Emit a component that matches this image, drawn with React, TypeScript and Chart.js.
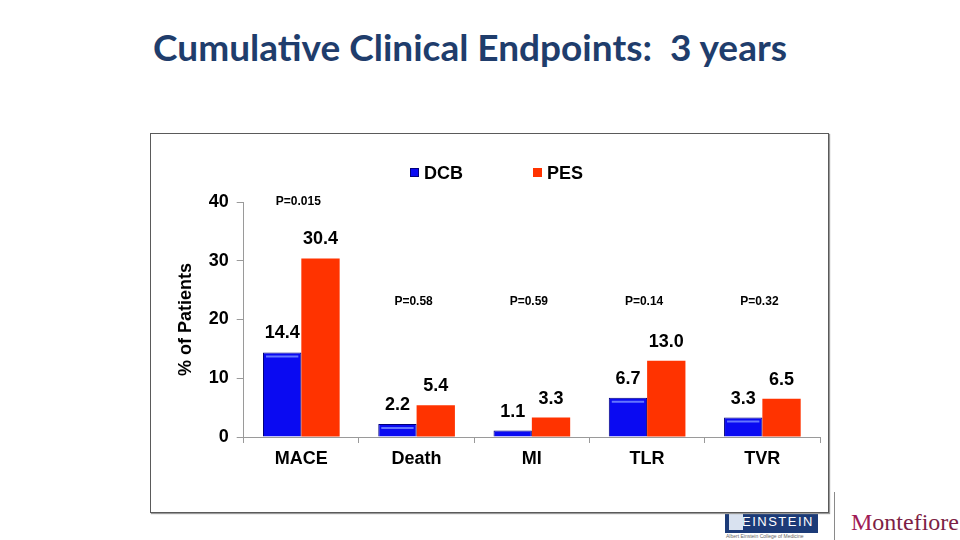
import { useEffect, useRef } from "react";
import { Chart, registerables } from "chart.js";

Chart.register(...registerables);

// Cumulative 3-year endpoints, % of patients
const categories = ["MACE", "Death", "MI", "TLR", "TVR"];
const seriesNames = ["DCB", "PES"];
const dcbValues = [14.4, 2.2, 1.1, 6.7, 3.3];
const pesValues = [30.4, 5.4, 3.3, 13.0, 6.5];
const pValueLabels = ["P=0.015", "P=0.58", "P=0.59", "P=0.14", "P=0.32"];
const pValueLevels = [40, 23, 23, 23, 23];
const yTickValues = [0, 10, 20, 30, 40];

const DCB_BLUE = "#0a0af2";
const DCB_EDGE = "#00007c";
const PES_RED = "#ff3300";
const AXIS_GRAY = "#9a9a9a";
const SANS = "'Liberation Sans', Arial, sans-serif";

// Series key drawn above the plot
const keyPlugin = {
  id: "seriesKey",
  afterDraw(chart: any) {
    const ctx = chart.ctx;
    const cy = 39;
    const boxes = [259, 382];
    ctx.save();
    ctx.font = `bold 18px ${SANS}`;
    ctx.textBaseline = "middle";
    ctx.textAlign = "left";
    chart.data.datasets.forEach((ds: any, i: number) => {
      const bx = boxes[i];
      ctx.fillStyle = ds.backgroundColor;
      ctx.fillRect(bx, cy - 5, 9, 9);
      if (i === 0) {
        ctx.strokeStyle = DCB_EDGE;
        ctx.lineWidth = 1;
        ctx.strokeRect(bx + 0.5, cy - 4.5, 8, 8);
      }
      ctx.fillStyle = "#000";
      ctx.fillText(ds.label, bx + 14, cy + 1);
    });
    ctx.restore();
  },
};

// Bevel highlight on the blue bars, value labels and p-values
const annotatePlugin = {
  id: "annotate",
  afterDatasetsDraw(chart: any) {
    const ctx = chart.ctx;
    ctx.save();
    const blueMeta = chart.getDatasetMeta(0);
    blueMeta.data.forEach((bar: any) => {
      const half = bar.width / 2;
      if (bar.base - bar.y > 7) {
        ctx.strokeStyle = "rgba(110,130,255,0.9)";
        ctx.lineWidth = 2;
        ctx.beginPath();
        ctx.moveTo(bar.x - half + 3, bar.y + 4);
        ctx.lineTo(bar.x + half - 3, bar.y + 4);
        ctx.stroke();
      }
    });

    ctx.fillStyle = "#000";
    ctx.textAlign = "center";
    ctx.textBaseline = "middle";
    ctx.font = `bold 18px ${SANS}`;
    chart.data.datasets.forEach((ds: any, di: number) => {
      const meta = chart.getDatasetMeta(di);
      meta.data.forEach((bar: any, i: number) => {
        ctx.fillText(Number(ds.data[i]).toFixed(1), bar.x, bar.y - 19);
      });
    });

    const xs = chart.scales.x;
    const ys = chart.scales.y;
    ctx.font = `bold 12px ${SANS}`;
    pValueLabels.forEach((txt, i) => {
      ctx.fillText(txt, xs.getPixelForValue(i) - 3, ys.getPixelForValue(pValueLevels[i]));
    });
    ctx.restore();
  },
};

function EndpointsChart() {
  const ref = useRef<HTMLCanvasElement>(null);
  useEffect(() => {
    if (!ref.current) return;
    const chart = new Chart(ref.current, {
      type: "bar",
      data: {
        labels: categories,
        datasets: [
          {
            label: seriesNames[0],
            data: dcbValues,
            backgroundColor: DCB_BLUE,
            borderColor: DCB_EDGE,
            borderWidth: 1,
            categoryPercentage: 0.665,
            barPercentage: 1,
          },
          {
            label: seriesNames[1],
            data: pesValues,
            backgroundColor: PES_RED,
            borderWidth: 0,
            categoryPercentage: 0.665,
            barPercentage: 1,
          },
        ],
      },
      options: {
        responsive: false,
        animation: false,
        events: [],
        layout: { padding: { top: 68, right: 8, left: 0, bottom: 0 } },
        plugins: {
          legend: { display: false },
          tooltip: { enabled: false },
        },
        scales: {
          x: {
            grid: {
              offset: true,
              drawOnChartArea: false,
              drawTicks: true,
              tickLength: 6,
              color: AXIS_GRAY,
            },
            border: { color: AXIS_GRAY, width: 1 },
            ticks: {
              color: "#000",
              font: { family: SANS, size: 18, weight: "bold" },
              padding: 5,
            },
            afterFit: (s: any) => {
              s.height = 75;
            },
          },
          y: {
            min: 0,
            max: 40,
            afterBuildTicks: (s: any) => {
              s.ticks = yTickValues.map((v) => ({ value: v }));
            },
            grid: {
              drawOnChartArea: false,
              drawTicks: true,
              tickLength: 7,
              color: AXIS_GRAY,
            },
            border: { color: AXIS_GRAY, width: 1 },
            ticks: {
              color: "#000",
              font: { family: SANS, size: 18, weight: "bold" },
              padding: 8,
            },
            title: {
              display: true,
              text: "% of Patients",
              color: "#000",
              font: { family: SANS, size: 18, weight: "bold" },
              padding: { top: 24, bottom: 24 },
            },
            afterFit: (s: any) => {
              s.width = 92.7;
            },
          },
        },
      },
      plugins: [keyPlugin, annotatePlugin],
    });
    return () => chart.destroy();
  }, []);
  return <canvas ref={ref} width={677} height={378} style={{ display: "block" }} />;
}

export default function App() {
  return (
    <div
      style={{
        position: "fixed",
        left: 0,
        top: 0,
        width: 960,
        height: 540,
        background: "#fff",
        overflow: "hidden",
      }}
    >
      <div
        style={{
          position: "absolute",
          left: 0,
          width: 940,
          top: 25,
          textAlign: "center",
          whiteSpace: "pre",
          fontFamily: "Lato, 'Open Sans', sans-serif",
          fontWeight: 700,
          fontSize: 37,
          lineHeight: "44px",
          color: "#1f3d6c",
        }}
      >
        {"Cumulative Clinical Endpoints:  3 years"}
      </div>

      <div
        style={{
          position: "absolute",
          left: 725,
          top: 511,
          width: 93,
          height: 22,
          background: "#1c3b78",
          color: "#fff",
          fontFamily: SANS,
          fontSize: 13,
          letterSpacing: 1.5,
          lineHeight: "22px",
          textAlign: "right",
          paddingRight: 4,
          boxSizing: "border-box",
        }}
      >
        EINSTEIN
      </div>
      <div
        style={{
          position: "absolute",
          left: 729,
          top: 513,
          width: 14,
          height: 17,
          background: "#d9e2f0",
        }}
      />
      <div
        style={{
          position: "absolute",
          left: 726,
          top: 533,
          fontFamily: SANS,
          fontSize: 5,
          color: "#666",
          whiteSpace: "nowrap",
        }}
      >
        Albert Einstein College of Medicine
      </div>
      <div
        style={{
          position: "absolute",
          left: 834,
          top: 492,
          width: 1,
          height: 48,
          background: "#8a8a8a",
        }}
      />
      <div
        style={{
          position: "absolute",
          left: 851,
          top: 507,
          fontFamily: "'Liberation Serif', serif",
          fontSize: 24,
          lineHeight: "30px",
          color: "#7d1f45",
          whiteSpace: "nowrap",
        }}
      >
        <span style={{ color: "#a01a55" }}>M</span>ontefiore
      </div>

      <div
        style={{
          position: "absolute",
          left: 150,
          top: 133,
          width: 679,
          height: 380,
          border: "1px solid #5a5a5a",
          boxShadow: "1px 1px 1px #9a9a9a",
          boxSizing: "border-box",
          background: "#fff",
        }}
      >
        <EndpointsChart />
      </div>
    </div>
  );
}
